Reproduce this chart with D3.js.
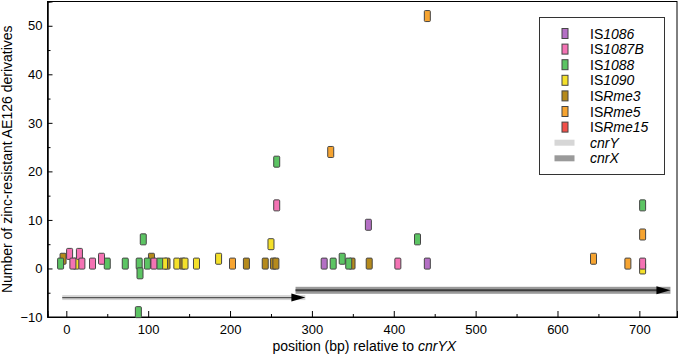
<!DOCTYPE html>
<html lang="en">
  <head>
    <meta charset="UTF-8" />
    <title>insertion positions</title>
    <style>
      body {
        margin: 0;
        background: #fff;
        font-family: "Liberation Sans", Arial, Helvetica, sans-serif;
      }
      svg {
        display: block;
      }
      .tick text {
        font-size: 13px;
        fill: #000;
      }
      .axis-label {
        font-size: 14px;
      }
      .legend text {
        font-size: 14px;
      }
    </style>
  </head>
  <body>
    <script src="https://cdn.jsdelivr.net/npm/d3@7"></script>
    <script>
      // legend order of the insertion elements
      const elements = ["IS1086", "IS1087B", "IS1088", "IS1090", "ISRme3", "ISRme5", "ISRme15"];
      const colors = ["#b46fc4", "#f473b4", "#5cc463", "#f4e02a", "#b58a1c", "#f6a431", "#f2504a"];

      // [position bp, number of derivatives] per element
      const is1086 = [[315, 1], [369, 9], [441, 1]];
      const is1087B = [[4, 3], [8, 1], [16, 3], [19, 1], [32, 1], [43, 2], [107, 1], [257, 13], [405, 1], [704, 1]];
      const is1088 = [[-7, 1], [50, 1], [72, 1], [89, 1], [90, -1], [94, 6], [99, 1], [114, 1], [88, -9],
        [257, 22], [326, 1], [337, 2], [345, 1], [429, 6], [704, 13]];
      const is1090 = [[12, 1], [120, 1], [135, 1], [145, 1], [159, 1], [186, 2], [250, 5], [704, 0]];
      const isRme3 = [[-4, 2], [104, 2], [123, 1], [142, 1], [220, 1], [243, 1], [253, 1], [256, 1], [349, 1], [370, 1]];
      const isRme5 = [[203, 1], [323, 24], [441, 52], [644, 2], [686, 1], [704, 7]];
      const isRme15 = [];
      const seriesValues = [is1086, is1087B, is1088, is1090, isRme3, isRme5, isRme15];

      // genes drawn as arrows below the points
      const geneNames = ["cnrY", "cnrX"];
      const geneStart = [-5, 280];
      const geneEnd = [292, 738];
      const geneLevel = [-6, -4.5];

      const xTicks = [0, 100, 200, 300, 400, 500, 600, 700];
      const xMinor = [50, 150, 250, 350, 450, 550, 650];
      const yTicks = [-10, 0, 10, 20, 30, 40, 50];
      const yMinor = [-5, 5, 15, 25, 35, 45];

      const width = 682;
      const height = 357;
      const plotLeft = 47.5, plotRight = 677, plotTop = 1.5, plotBottom = 317;

      const svg = d3.select("body").append("svg").attr("width", width).attr("height", height);

      const x = d3.scaleLinear().domain([-23, 746]).range([plotLeft, plotRight]);
      const y = d3.scaleLinear().domain([-10, 55]).range([plotBottom, plotTop]);

      // frame
      svg.append("rect")
        .attr("x", plotLeft).attr("y", plotTop)
        .attr("width", plotRight - plotLeft).attr("height", plotBottom - plotTop)
        .attr("fill", "none").attr("stroke", "#000").attr("stroke-width", 1);

      const fmt = d => (d < 0 ? "\u2212" + Math.abs(d) : d);

      svg.append("g").attr("transform", `translate(0,${plotBottom})`)
        .call(d3.axisBottom(x).tickValues(xTicks).tickSize(-6).tickPadding(8).tickFormat(fmt));
      svg.append("g").attr("transform", `translate(0,${plotBottom})`)
        .call(d3.axisBottom(x).tickValues(xMinor).tickSize(-3).tickFormat(""));

      svg.append("g").attr("transform", `translate(${plotLeft},0)`)
        .call(d3.axisLeft(y).tickValues(yTicks).tickSize(-5).tickPadding(5).tickFormat(fmt));
      svg.append("g").attr("transform", `translate(${plotLeft},0)`)
        .call(d3.axisLeft(y).tickValues(yMinor).tickSize(-3).tickFormat(""));

      svg.selectAll(".domain").attr("stroke", "#000");
      svg.selectAll(".tick line").attr("stroke", "#000");
      svg.selectAll("g[font-family]").attr("font-family", null).attr("font-size", null);

      // axis titles
      const xTitle = svg.append("text")
        .attr("class", "axis-label")
        .attr("x", (plotLeft + plotRight) / 2 + 2)
        .attr("y", 351)
        .attr("text-anchor", "middle");
      xTitle.append("tspan").text("position (bp) relative to ");
      xTitle.append("tspan").attr("font-style", "italic").text("cnrYX");

      svg.append("text")
        .attr("class", "axis-label")
        .attr("transform", `translate(12,${(plotTop + plotBottom) / 2}) rotate(-90)`)
        .attr("text-anchor", "middle")
        .text("Number of zinc-resistant AE126 derivatives");

      // gene arrows
      const geneStyle = [
        { band: "#d6d6d6", bandH: 5, line: "#555", lineW: 1.3 },
        { band: "#9a9a9a", bandH: 7, line: "#3c3c3c", lineW: 2 }
      ];
      const genes = svg.append("g");
      geneNames.forEach((name, i) => {
        const g = genes.append("g");
        const yy = y(geneLevel[i]);
        const x0 = x(geneStart[i]);
        const x1 = x(geneEnd[i]);
        const s = geneStyle[i];
        g.append("rect")
          .attr("x", x0).attr("y", yy - s.bandH / 2)
          .attr("width", x1 - x0).attr("height", s.bandH)
          .attr("fill", s.band);
        g.append("line")
          .attr("x1", x0).attr("x2", x1 - 10)
          .attr("y1", yy).attr("y2", yy)
          .attr("stroke", s.line).attr("stroke-width", s.lineW);
        g.append("path")
          .attr("d", `M${x1 - 14},${yy - 4}L${x1},${yy}L${x1 - 14},${yy + 4}Z`)
          .attr("fill", "#000");
      });

      // insertion markers, last element drawn first
      const markW = 6, markH = 11;
      const points = svg.append("g");
      for (let i = elements.length - 1; i >= 0; i--) {
        points.append("g")
          .selectAll("rect")
          .data(seriesValues[i])
          .join("rect")
          .attr("x", d => x(d[0]) - markW / 2)
          .attr("y", d => y(d[1]) - markH / 2)
          .attr("width", markW)
          .attr("height", markH)
          .attr("rx", 1)
          .attr("fill", colors[i])
          .attr("stroke", "#454545")
          .attr("stroke-width", 1);
      }

      // legend
      const legend = svg.append("g").attr("class", "legend");
      legend.append("rect")
        .attr("x", 539.5).attr("y", 17.5)
        .attr("width", 125).attr("height", 157)
        .attr("fill", "#fff").attr("stroke", "#333").attr("stroke-width", 1);

      const rowY = i => 33.5 + i * 15.6;
      elements.forEach((name, i) => {
        legend.append("rect")
          .attr("x", 562).attr("y", rowY(i) - 5)
          .attr("width", 6).attr("height", 10)
          .attr("fill", colors[i]).attr("stroke", "#454545");
        const t = legend.append("text").attr("x", 590).attr("y", rowY(i) + 5);
        t.append("tspan").text("IS");
        t.append("tspan").attr("font-style", "italic").text(name.slice(2));
      });
      geneNames.forEach((name, i) => {
        const r = elements.length + i;
        legend.append("rect")
          .attr("x", 554.5).attr("y", rowY(r) - 3)
          .attr("width", 20).attr("height", 6)
          .attr("fill", geneStyle[i].band);
        legend.append("text")
          .attr("x", 590).attr("y", rowY(r) + 5)
          .attr("font-style", "italic")
          .text(name);
      });
    </script>
  </body>
</html>
